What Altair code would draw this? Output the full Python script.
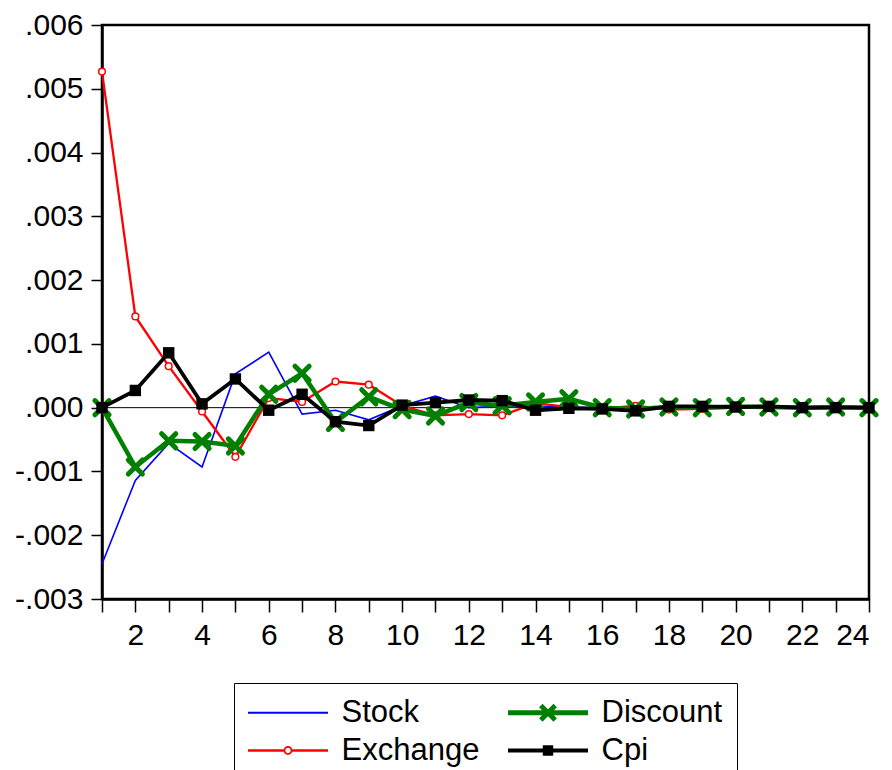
import altair as alt
import pandas as pd

periods = list(range(1, 25))

stock = [-0.00245, -0.00114, -0.00056, -0.00093, 0.00053, 0.00087, -0.00010, -0.00004,
         -0.00019, 0.00003, 0.00018, 0.00000, 0.00002, 0.00002, 0.00001, 0.00000,
         0.00001, 0.00001, 0.00002, 0.00001, 0.00001, 0.00000, 0.00000, 0.00000]
exchange = [0.00527, 0.00143, 0.00065, -0.00006, -0.00077, 0.00015, 0.00009, 0.00041,
            0.00036, 0.00003, -0.00012, -0.00010, -0.00012, 0.00007, 0.00001, -0.00002,
            0.00003, -0.00003, -0.00002, 0.00000, 0.00001, -0.00001, 0.00000, 0.00000]
discount = [0.00000, -0.00093, -0.00052, -0.00053, -0.00060, 0.00021, 0.00054, -0.00023,
            0.00017, -0.00003, -0.00013, 0.00008, 0.00003, 0.00009, 0.00014, 0.00000,
            -0.00002, 0.00001, 0.00000, 0.00002, 0.00001, 0.00000, 0.00001, 0.00000]
cpi = [0.00000, 0.00027, 0.00086, 0.00006, 0.00045, -0.00004, 0.00021, -0.00022,
       -0.00028, 0.00004, 0.00008, 0.00012, 0.00011, -0.00004, -0.00001, -0.00002,
       -0.00005, 0.00002, 0.00002, 0.00001, 0.00002, 0.00000, 0.00000, 0.00000]

series_names = ["Stock", "Exchange", "Discount", "Cpi"]
series_colors = ["#0000ff", "#ff0000", "#008000", "#000000"]
series_widths = [1.6, 2.3, 4.5, 3.8]
# legend glyphs (line + marker) as filled outlines, drawn in the series colour
legend_paths = [
    "M-5,-0.11H5V0.11H-5Z",
    "M-5,-0.16H-0.45V0.16H-5Z M0.45,-0.16H5V0.16H0.45Z "
    "M-0.55,0A0.55,0.55,0,1,1,0.55,0A0.55,0.55,0,1,1,-0.55,0Z "
    "M-0.33,0A0.33,0.33,0,1,0,0.33,0A0.33,0.33,0,1,0,-0.33,0Z",
    "M-5,-0.31H5V0.31H-5Z "
    "M-0.688,-1.112L1.112,0.688L0.688,1.112L-1.112,-0.688Z "
    "M-0.688,1.112L-1.112,0.688L0.688,-1.112L1.112,-0.688Z",
    "M-5,-0.25H5V0.25H-5Z M-0.65,-0.65H0.65V0.65H-0.65Z",
]
y_ticks = [-0.003, -0.002, -0.001, 0.0, 0.001, 0.002, 0.003, 0.004, 0.005, 0.006]
x_ticks = periods

rows = []
for name, vals in zip(series_names, [stock, exchange, discount, cpi]):
    for p, v in zip(periods, vals):
        rows.append({"period": p, "value": v, "series": name})
df = pd.DataFrame(rows)

FONT = "Liberation Sans"

x_enc = alt.X(
    "period:Q",
    scale=alt.Scale(domain=[1, 24], nice=False, zero=False),
    axis=alt.Axis(values=x_ticks, title=None, tickSize=13, labelPadding=8,
                  labelExpr="datum.value % 2 == 0 ? datum.label : ''"),
)
y_enc = alt.Y(
    "value:Q",
    scale=alt.Scale(domain=[-0.003, 0.006], nice=False, zero=False),
    axis=alt.Axis(values=y_ticks, title=None, tickSize=11, labelPadding=8,
                  labelExpr="(datum.value < -0.0000001 ? '-' : '') + replace(format(abs(datum.value), '.3f'), '0.', '.')"),
)

base = alt.Chart(df).encode(x=x_enc, y=y_enc)

zero = alt.Chart(pd.DataFrame({"value": [0.0]})).mark_rule(color="black", strokeWidth=1).encode(y=y_enc)

layers = [zero]
for name, col, w in zip(series_names, series_colors, series_widths):
    layers.append(base.transform_filter(alt.datum.series == name).mark_line(color=col, strokeWidth=w))
    if name == "Exchange":
        layers.append(base.transform_filter(alt.datum.series == name).mark_point(
            shape="circle", filled=True, fill="#ffffff", stroke=col, strokeWidth=1.5, size=45, opacity=1))
    elif name == "Discount":
        layers.append(base.transform_filter(alt.datum.series == name).mark_point(
            shape="M-1,-1L1,1M-1,1L1,-1", stroke=col, strokeWidth=5, strokeCap="round",
            size=200, opacity=1))
    elif name == "Cpi":
        layers.append(base.transform_filter(alt.datum.series == name).mark_point(
            shape="square", filled=True, color=col, size=130, opacity=1))

leg = alt.Legend(
    title=None, orient="none", legendX=132, legendY=658, direction="vertical", columns=2,
    symbolSize=256, symbolOffset=24.5, labelOffset=38, labelFontSize=31, labelFont=FONT,
    labelColor="black", labelLimit=400, strokeColor="black", padding=14, rowPadding=6,
    columnPadding=28, symbolOpacity=1, symbolStrokeWidth=0,
)

legend_layer = base.mark_point(opacity=0, filled=True).encode(
    fill=alt.Fill("series:N", scale=alt.Scale(domain=series_names, range=series_colors), legend=leg),
    shape=alt.Shape("series:N", scale=alt.Scale(domain=series_names, range=legend_paths), legend=leg),
)
layers.append(legend_layer)

chart = alt.layer(*layers).properties(
    width=767, height=574,
    autosize=alt.AutoSizeParams(type="none"),
    padding={"left": 94, "top": 17, "right": 10, "bottom": 190},
).configure_view(
    stroke="black", strokeWidth=2.5
).configure_axis(
    domainColor="black", domainWidth=2.5, tickColor="black", tickWidth=1.5,
    labelColor="black", labelFont=FONT, labelFontSize=30, grid=False,
)

chart.save("out.html", embed_options={"renderer": "svg", "actions": False})
